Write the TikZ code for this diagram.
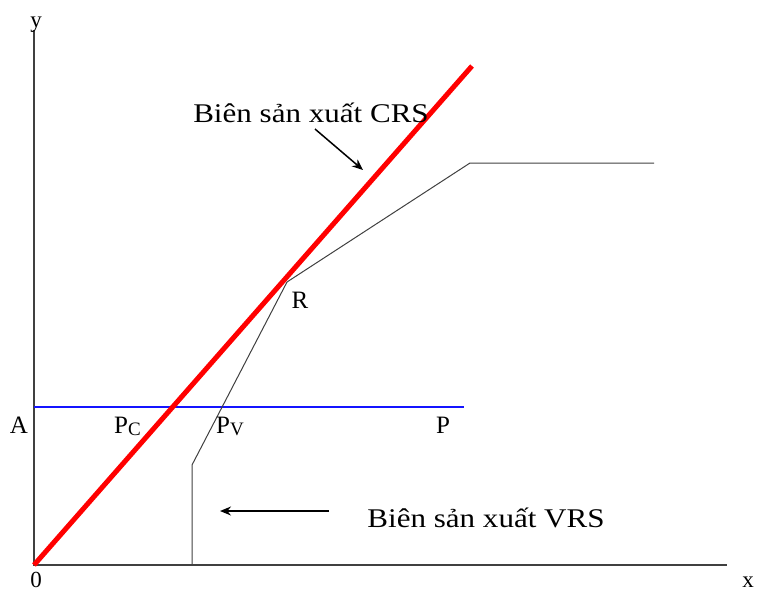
\documentclass[tikz,border=0pt]{standalone}
\usepackage{fontspec}
\setmainfont{Liberation Serif}
\usetikzlibrary{arrows.meta}
\definecolor{hblue}{RGB}{20,20,255}
\begin{document}
\begin{tikzpicture}[x=1pt,y=-1pt,
  axis/.style={draw=black!75,line width=1.5pt},
  crs/.style={draw=red,line width=5pt},
  vrs/.style={draw=black!75,line width=1pt},
  hline/.style={draw=hblue,line width=1.2pt},
  ptr/.style={draw=black,line width=1.5pt,-{Stealth[length=11pt,width=9pt]}},
  lbl/.style={font=\fontsize{25}{28}\selectfont,inner sep=0pt,anchor=base},
  big/.style={font=\fontsize{27}{30}\selectfont,inner sep=0pt,anchor=base},
  axl/.style={font=\fontsize{23}{26}\selectfont,inner sep=0pt,anchor=base}]
\useasboundingbox (0,0) rectangle (759,592);
% coordinates
\coordinate (O) at (34,565);
\coordinate (Ytop) at (34,30);
\coordinate (Xend) at (727,565);
\coordinate (C2) at (472,66);
\coordinate (V0) at (192,565);
\coordinate (V1) at (192,465);
\coordinate (R) at (287,282);
\coordinate (V3) at (470,163);
\coordinate (V4) at (654,163);
\coordinate (H0) at (34,407);
\coordinate (H1) at (464,407);
% axes
\draw[axis] (Ytop) -- (O) -- (Xend);
% blue line
\draw[hline] (H0) -- (H1);
% VRS frontier
\draw[vrs] (V0) -- (V1) -- (R) -- (V3) -- (V4);
% CRS frontier
\draw[crs] (O) -- (C2);
% labels
\node[axl] (ylab) at (36,27) {y};
\node[axl] (xlab) at (748,587) {x};
\node[axl] (olab) at (36,587) {0};
\node[lbl] (Alab) at (19,433) {A};
\node[lbl,anchor=base west] (PClab) at (114,433) {P\raisebox{-2pt}{\fontsize{19}{20}\selectfont C}};
\node[lbl,anchor=base west] (PVlab) at (216,433) {P\raisebox{-2pt}{\fontsize{19}{20}\selectfont V}};
\node[lbl] (Plab) at (443,433) {P};
\node[lbl] (Rlab) at (300,308) {R};
\node[big] (crslab) at (311,122) {\scalebox{1.15}[1]{Biên sản xuất CRS}};
\node[big] (vrslab) at (486,527) {\scalebox{1.15}[1]{Biên sản xuất VRS}};
% pointers
\coordinate (a1s) at (315,129);
\coordinate (a1e) at (363,170);
\coordinate (a2s) at (329,511);
\coordinate (a2e) at (220,511);
\draw[ptr] (a1s) -- (a1e);
\draw[ptr] (a2s) -- (a2e);
\end{tikzpicture}
\end{document}
